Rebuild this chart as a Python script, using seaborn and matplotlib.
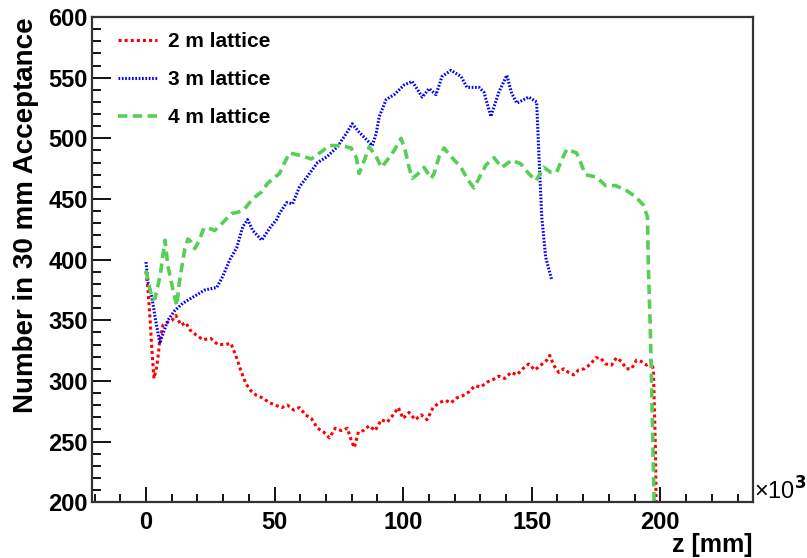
import numpy as np
import pandas as pd
import matplotlib
matplotlib.use("Agg")
import matplotlib.pyplot as plt
import seaborn as sns
from matplotlib.ticker import MultipleLocator

# dati (z in unita' di 10^3 mm)
z_2m = [0, 0.8, 1.6, 2.3, 3.1, 4.3, 5.4, 6.6, 8.1, 10.1, 11.6, 13.6, 15.5, 17.1, 19.4, 22.1, 25.2,
        27.9, 31, 33, 34.9, 36.8, 38.8, 40.7, 43, 45.3, 48, 50.4, 52.7, 55, 57.4, 59.7, 62, 64.3,
        66.7, 69, 71.3, 73.6, 76, 78.3, 79.8, 81, 82.6, 84.5, 86.8, 89.1, 91.5, 93.8, 96.1, 98.1,
        100, 102.3, 104.7, 107, 109.3, 111.6, 114, 116.3, 118.6, 120.9, 123.3, 125.6, 127.9, 130.2,
        132.6, 134.9, 137.2, 139.5, 141.9, 144.2, 146.5, 148.8, 151.2, 153.5, 155.8, 157, 158.5,
        160.5, 162.4, 164.3, 166.3, 168.2, 170.5, 172.9, 174.8, 176.7, 178.7, 181, 182.9, 184.9,
        186.8, 188.8, 190.7, 192.6, 194.6, 196.5, 197.3, 198.1, 198.4]
n_2m = [390, 375, 350, 325, 302, 313, 334, 346, 348, 350, 354, 346, 348, 342, 338, 334, 335,
        330, 330, 331, 321, 309, 298, 292, 288, 286, 282, 280, 278, 280, 276, 278, 272, 269,
        261, 258, 253, 261, 259, 261, 251, 245, 258, 259, 263, 259, 268, 266, 272, 278,
        269, 274, 268, 272, 268, 278, 282, 284, 282, 286, 288, 291, 296, 295,
        299, 301, 304, 302, 307, 305, 310, 314, 309, 313, 317, 321, 313,
        307, 310, 307, 305, 309, 310, 314, 319, 319, 314, 313, 319, 316,
        310, 310, 317, 316, 313, 316, 309, 243, 190]

z_3m = [0, 0.8, 2.3, 3.5, 4.7, 5.4, 6.6, 8.5, 11.2, 14.3, 18.2, 22.9, 27.5, 29.8, 32.6, 35.3,
        37.6, 39.5, 41.5, 45, 48.1, 50.8, 51.9, 54.7, 57, 59.7, 63.6, 66.7, 70.5, 74.4, 77.9,
        80.2, 82.9, 85.7, 88, 89.5, 90.7, 93.4, 96.5, 100.4, 103.5, 107.4, 110.1, 112.8, 115.1,
        118.6, 122.5, 124.8, 129.5, 131.4, 134.1, 137.2, 140.3, 142.2, 144.2, 148.8, 151.9,
        152.7, 153.9, 155.4, 157.8]
n_3m = [398, 381, 369, 353, 339, 331, 339, 350, 358, 364, 369, 375, 377, 386, 400, 410,
        427, 433, 424, 416, 426, 433, 438, 447, 446, 460, 471, 480, 485, 493, 504,
        512, 505, 499, 494, 504, 518, 532, 536, 544, 547, 534, 541, 536, 551,
        556, 551, 542, 542, 538, 518, 538, 552, 537, 529, 534, 530,
        490, 435, 402, 383]

z_4m = [0, 1.2, 2.3, 3.5, 4.7, 5.8, 6.6, 7.4, 8.5, 9.7, 10.9, 12, 12.8, 14, 15.1, 16.3, 17.4,
        19, 20.5, 22.5, 24.4, 26.7, 28.7, 31, 33.3, 35.7, 38, 40.3, 42.6, 45, 47.3, 49.6, 51.9,
        53.9, 55.8, 59.7, 64.3, 68.2, 71.3, 76, 79.8, 81.8, 82.9, 84.9, 86.8, 89.5, 91.5, 93.8,
        96.5, 99.2, 100.8, 102.3, 103.5, 105.4, 108.1, 110.9, 112, 114, 115.9, 118.6, 122.5,
        124.8, 127.5, 130.2, 132.2, 135.3, 138.4, 142.2, 145.7, 148.8, 151.6, 154.7, 157.4,
        159.7, 161.6, 163.6, 167.4, 169, 170.9, 175.2, 178.7, 182.6, 186.8, 190.3, 193.4, 195,
        195.3, 196.1, 196.9, 197.7]
n_4m = [391, 379, 367, 368, 379, 391, 404, 416, 395, 383, 371, 362, 379, 395, 409, 417, 415,
        409, 415, 426, 426, 424, 428, 433, 438, 439, 441, 447, 452, 456, 463, 467, 471,
        480, 488, 486, 483, 489, 494, 494, 492, 484, 471, 482, 493, 485, 476, 482,
        490, 500, 490, 476, 467, 470, 476, 467, 471, 485, 492, 485, 476,
        467, 459, 470, 478, 484, 476, 482, 479, 471, 465, 476, 472,
        472, 482, 491, 488, 480, 470, 468, 461, 461, 457, 452, 445, 435,
        397, 342, 268, 190]

serie = [
    ("2 m lattice", z_2m, n_2m, "#ff0000", 2.2, (0, (1, 1))),
    ("3 m lattice", z_3m, n_3m, "#0000ff", 2.2, (0, (0.55, 0.55))),
    ("4 m lattice", z_4m, n_4m, "#55cf55", 2.6, (0, (2.6, 1.5))),
]

sns.set_theme(style="ticks")
plt.rcParams['font.family'] = ['Liberation Sans', 'DejaVu Sans']
plt.rcParams['font.weight'] = 'bold'
for k in ['text.color', 'axes.labelcolor', 'xtick.color', 'ytick.color']:
    plt.rcParams[k] = 'black'

fig = plt.figure(figsize=(8.07, 5.58), dpi=100)
ax = fig.add_axes([0.114, 0.100, 0.819, 0.8695])

for nome, z, n, col, lw, ls in serie:
    df = pd.DataFrame({'z': z, 'n': n})
    sns.lineplot(data=df, x='z', y='n', ax=ax, color=col, lw=lw, linestyle=ls,
                 sort=False, estimator=None, label=nome)

ax.set_xlim(-21, 236)
ax.set_ylim(200, 600)
ax.xaxis.set_major_locator(MultipleLocator(50))
ax.xaxis.set_minor_locator(MultipleLocator(10))
ax.yaxis.set_major_locator(MultipleLocator(50))
ax.yaxis.set_minor_locator(MultipleLocator(10))
ax.tick_params(which='both', direction='in', top=False, right=False, width=1.3, color='black')
ax.tick_params(axis='y', which='major', length=14, pad=3, labelsize=17)
ax.tick_params(axis='y', which='minor', length=6.5)
ax.tick_params(axis='x', which='major', length=11, pad=6, labelsize=17)
ax.tick_params(axis='x', which='minor', length=6)
for lab in ax.get_xticklabels() + ax.get_yticklabels():
    lab.set_fontweight('bold')
for s in ax.spines.values():
    s.set_color('#333333')
    s.set_linewidth(1.6)
    s.set_visible(True)

ax.set_xlabel('')
ax.set_ylabel('Number in 30 mm Acceptance', fontsize=20, fontweight='bold')
ax.yaxis.set_label_coords(-0.080, 1.0)
ax.yaxis.label.set_horizontalalignment('right')
fig.text(0.933, 0.011, 'z [mm]', ha='right', va='baseline', fontsize=18, fontweight='bold')
fig.text(0.934, 0.104, '×10$^{3}$', ha='left', va='baseline', fontsize=17, fontweight='normal')

leg = ax.legend(loc='upper left', frameon=False, fontsize=15, handlelength=1.9,
                handletextpad=0.5, borderpad=0, borderaxespad=0, labelspacing=0.91,
                bbox_to_anchor=(0.039, 0.969))
for t in leg.get_texts():
    t.set_fontweight('bold')

fig.savefig('out.png', dpi=100)
